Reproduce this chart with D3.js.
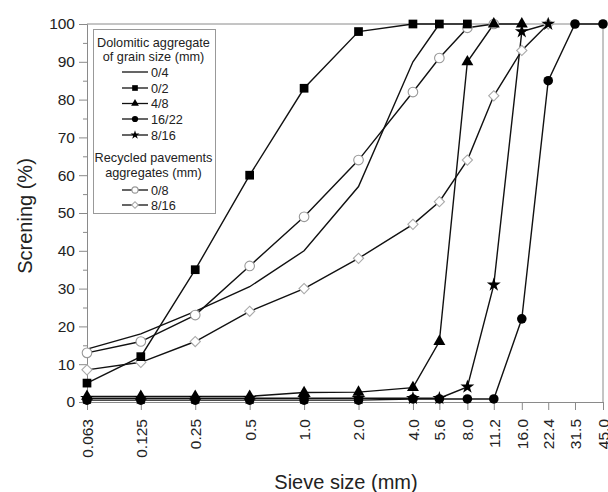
<!DOCTYPE html>
<html>
<head>
<meta charset="utf-8">
<script src="https://cdn.jsdelivr.net/npm/d3@7"></script>
<style>
  body { margin: 0; background: #fff; }
  text { font-family: "Liberation Sans", Arial, sans-serif; fill: #222; }
</style>
</head>
<body>
<div id="chart"></div>
<script>
// sieve sizes (mm) and their labels
let sizes = [0.063, 0.125, 0.25, 0.5, 1.0, 2.0, 4.0, 5.6, 8.0, 11.2, 16.0, 22.4, 31.5, 45.0]
let sizeLabels = ["0.063", "0.125", "0.25", "0.5", "1.0", "2.0", "4.0", "5.6", "8.0", "11.2", "16.0", "22.4", "31.5", "45.0"]
let yMajor = [0, 10, 20, 30, 40, 50, 60, 70, 80, 90, 100]
let yMinor = [5, 15, 25, 35, 45, 55, 65, 75, 85, 95]

// screening (%) per sieve, null = not measured
let dol04   = [14, 18, 24, 30.5, 40, 57, 90, 100, null, null, null, null, null, null]
let dol02   = [5, 12, 35, 60, 83, 98, 100, 100, 100, null, null, null, null, null]
let dol48   = [1.5, 1.5, 1.5, 1.5, 2.5, 2.6, 3.8, 16, 90, 100, 100, null, null, null]
let dol1622 = [0.5, 0.5, 0.5, 0.5, 0.5, 0.5, 0.8, 0.8, 0.8, 0.8, 22, 85, 100, 100]
let dol816  = [1, 1, 1, 1, 1, 1, 1, 1, 4, 31, 98, 100, null, null]
let rec08   = [13, 16, 23, 36, 49, 64, 82, 91, 99, 100, null, null, null, null]
let rec816  = [8.5, 10.5, 16, 24, 30, 38, 47, 53, 64, 81, 93, 100, null, null]

let series = [
  { name: "0/4",   values: dol04,   marker: null },
  { name: "0/2",   values: dol02,   marker: "square" },
  { name: "4/8",   values: dol48,   marker: "triangle" },
  { name: "16/22", values: dol1622, marker: "circle" },
  { name: "8/16",  values: dol816,  marker: "star" },
  { name: "0/8",   values: rec08,   marker: "opencircle" },
  { name: "8/16",  values: rec816,  marker: "diamond" }
]

let W = 608, H = 492

let svg = d3.select("#chart").append("svg")
  .attr("width", W)
  .attr("height", H)

let x = d3.scaleLog().domain([0.063, 45]).range([87, 603])
let y = d3.scaleLinear().domain([0, 100]).range([402, 24])

const AXIS = "#8a8a8a"

// frame (top + right)
svg.append("path")
  .attr("d", "M" + x.range()[0] + "," + y(100) + "H" + x.range()[1] + "V" + y(0))
  .attr("fill", "none")
  .attr("stroke", AXIS)
  .attr("stroke-width", 1)

// y axis
let yAxis = svg.append("g")
  .attr("transform", "translate(" + x.range()[0] + ",0)")
  .call(d3.axisLeft(y).tickValues(yMajor).tickSize(8).tickPadding(4).tickFormat(d3.format("d")))
yAxis.selectAll("text").style("font-size", "15.5px")
svg.append("g")
  .attr("transform", "translate(" + x.range()[0] + ",0)")
  .call(d3.axisLeft(y).tickValues(yMinor).tickSize(4).tickFormat(""))
  .call(g => g.select(".domain").remove())

// x axis with rotated labels
let xAxis = svg.append("g")
  .attr("transform", "translate(0," + y(0) + ")")
  .call(d3.axisBottom(x).tickValues(sizes).tickSize(8).tickFormat((d, i) => sizeLabels[i]))
xAxis.selectAll("text")
  .style("font-size", "15.5px")
  .attr("text-anchor", "end")
  .attr("transform", "rotate(-90)")
  .attr("x", -17)
  .attr("y", 0)
  .attr("dy", "0.35em")

svg.selectAll(".domain, .tick line").attr("stroke", AXIS)

// axis titles
svg.append("text")
  .attr("x", 346).attr("y", 489)
  .attr("text-anchor", "middle")
  .style("font-size", "20px")
  .text("Sieve size  (mm)")
svg.append("text")
  .attr("transform", "translate(32,216) rotate(-90)")
  .attr("text-anchor", "middle")
  .style("font-size", "20px")
  .text("Screning (%)")

// marker helper
function marker(sel, type, scale) {
  let s = scale || 1
  if (type == "square") {
    sel.append("path").attr("d", d3.symbol(d3.symbolSquare, 76 * s * s)()).attr("fill", "#000")
  } else if (type == "triangle") {
    sel.append("path").attr("d", d3.symbol(d3.symbolTriangle, 62 * s * s)()).attr("fill", "#000")
  } else if (type == "circle") {
    sel.append("circle").attr("r", 4.8 * s).attr("fill", "#000")
  } else if (type == "star") {
    sel.append("path").attr("d", d3.symbol(d3.symbolStar, 60 * s * s)()).attr("fill", "#000")
  } else if (type == "opencircle") {
    sel.append("circle").attr("r", 4.8 * s).attr("fill", "#fff").attr("stroke", "#999").attr("stroke-width", 1.1)
  } else if (type == "diamond") {
    sel.append("path").attr("d", d3.symbol(d3.symbolSquare, 52 * s * s)()).attr("transform", "rotate(45)")
      .attr("fill", "#fff").attr("stroke", "#aaa").attr("stroke-width", 1.1)
  }
}

let line = d3.line()
  .defined(d => d[1] != null)
  .x(d => x(d[0]))
  .y(d => y(d[1]))

// lines first, then markers on top (recycled first so dolomitic sit above)
series.forEach(function(s) {
  let pts = sizes.map((v, i) => [v, s.values[i]])
  svg.append("path")
    .datum(pts)
    .attr("d", line)
    .attr("fill", "none")
    .attr("stroke", "#111")
    .attr("stroke-width", 1.4)
})
series.slice(5).concat(series.slice(0, 5)).forEach(function(s) {
  if (!s.marker) return
  sizes.forEach(function(v, i) {
    if (s.values[i] == null) return
    let g = svg.append("g").attr("transform", "translate(" + x(v) + "," + y(s.values[i]) + ")")
    marker(g, s.marker)
  })
})

// legend
let lg = svg.append("g")
lg.append("rect")
  .attr("x", 93.5).attr("y", 29.5)
  .attr("width", 122).attr("height", 184)
  .attr("fill", "#fff")
  .attr("stroke", "#999")

let lgFont = "12.7px"
let headers = [["Dolomitic aggregate", 46.5], ["of grain size (mm)", 60.5], ["Recycled pavements", 161.5], ["aggregates (mm)", 176.5]]
headers.forEach(function(h) {
  lg.append("text").attr("x", 153.5).attr("y", h[1]).attr("text-anchor", "middle").style("font-size", lgFont).text(h[0])
})

let rows = [72, 88, 103.5, 119, 135, 190, 205]
series.forEach(function(s, i) {
  let ry = rows[i]
  lg.append("line")
    .attr("x1", 122).attr("x2", 148)
    .attr("y1", ry).attr("y2", ry)
    .attr("stroke", "#111").attr("stroke-width", 1.3)
  if (s.marker) {
    let g = lg.append("g").attr("transform", "translate(135," + ry + ")")
    marker(g, s.marker, 0.65)
  }
  lg.append("text").attr("x", 151).attr("y", ry + 4.5).style("font-size", lgFont).text(s.name)
})
</script>
</body>
</html>
